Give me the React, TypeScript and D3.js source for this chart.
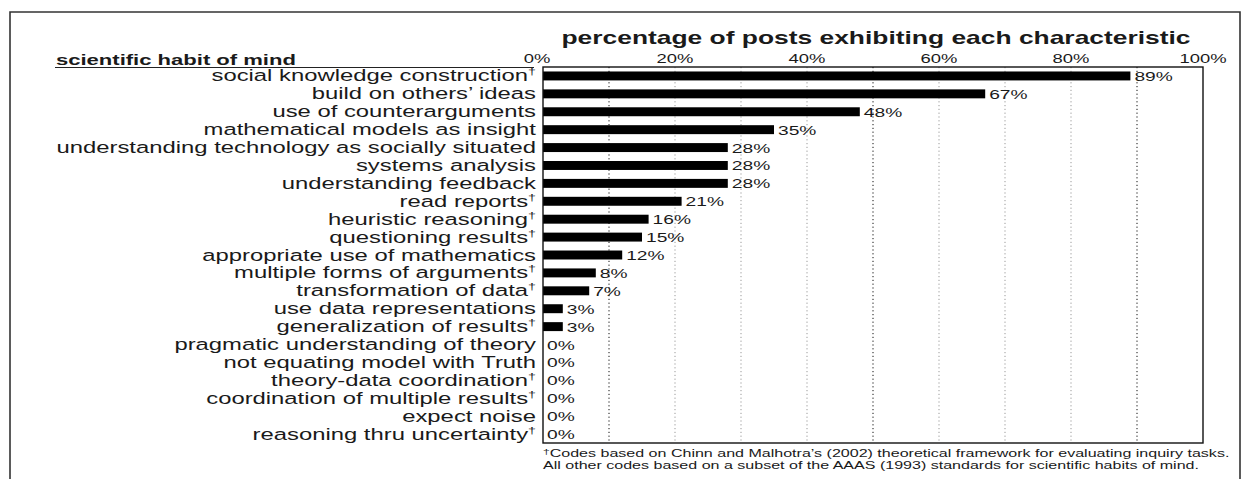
import React from 'react';
import * as d3 from 'd3';

const habits: string[] = [
  'social knowledge construction',
  'build on others\u2019 ideas',
  'use of counterarguments',
  'mathematical models as insight',
  'understanding technology as socially situated',
  'systems analysis',
  'understanding feedback',
  'read reports',
  'heuristic reasoning',
  'questioning results',
  'appropriate use of mathematics',
  'multiple forms of arguments',
  'transformation of data',
  'use data representations',
  'generalization of results',
  'pragmatic understanding of theory',
  'not equating model with Truth',
  'theory-data coordination',
  'coordination of multiple results',
  'expect noise',
  'reasoning thru uncertainty',
];

const percents: number[] = [89, 67, 48, 35, 28, 28, 28, 21, 16, 15, 12, 8, 7, 3, 3, 0, 0, 0, 0, 0, 0];

// codes from Chinn & Malhotra get a dagger
const chinnCodes: boolean[] = [
  true, false, false, false, false, false, false, true, true, true, false,
  true, true, false, true, false, false, true, true, false, true,
];

const axisTicks: number[] = [0, 20, 40, 60, 80, 100];
const gridTicks: number[] = [10, 20, 30, 40, 50, 60, 70, 80, 90];

const W = 1241;
const H = 479;
const SX = 1.5; // the source image is stretched horizontally
const FONT = '"Liberation Sans", Arial, Helvetica, sans-serif';

const plot = { left: 543, right: 1203, top: 67, bottom: 443 };

const T: React.FC<{ x: number; y: number; size: number; anchor?: string; weight?: string; children: React.ReactNode }> = ({ x, y, size, anchor = 'start', weight = 'normal', children }) => (
  <text
    transform={`translate(${x},${y}) scale(${SX},1)`}
    fontSize={size}
    fontWeight={weight}
    textAnchor={anchor}
    fill="#1a1a1a"
  >
    {children}
  </text>
);

const Dagger: React.FC = () => (
  <tspan fontSize={9.5} dy={-6}>{'\u2020'}</tspan>
);

export default function App() {
  const x = d3.scaleLinear().domain([0, 100]).range([plot.left, plot.right]);
  const y = d3.scaleBand<string>()
    .domain(habits)
    .range([plot.top, plot.bottom])
    .paddingInner(0.5)
    .paddingOuter(0.25);

  return (
    <svg
      width={W}
      height={H}
      style={{ position: 'absolute', left: 0, top: 0, background: '#fff', fontFamily: FONT }}
    >
      {/* outer frame */}
      <path d={`M10,${H} V12 H${W - 1} V${H}`} fill="none" stroke="#333" strokeWidth={1.6} />

      <T x={876} y={44} size={17.6} anchor="middle" weight="bold">
        percentage of posts exhibiting each characteristic
      </T>

      <T x={56} y={65} size={14.7} weight="bold">scientific habit of mind</T>
      <line x1={55} x2={534} y1={67.5} y2={67.5} stroke="#222" strokeWidth={1} />

      {axisTicks.map(t => (
        <T key={t} x={t === 0 ? x(t) - 6 : x(t)} y={63} size={12.3} anchor="middle">{`${t}%`}</T>
      ))}

      {/* grid */}
      {gridTicks.map(t => (
        <line
          key={t}
          x1={x(t)}
          x2={x(t)}
          y1={plot.top}
          y2={plot.bottom}
          stroke={t % 40 === 10 ? '#111' : '#999'}
          strokeWidth={1}
          strokeDasharray="1.2,2.6"
        />
      ))}

      {/* bars */}
      {habits.map((h, i) => (
        <rect
          key={h}
          x={x(0)}
          y={y(h)!}
          width={x(percents[i]) - x(0)}
          height={y.bandwidth()}
          fill="#000"
        />
      ))}

      <rect
        x={plot.left}
        y={plot.top}
        width={plot.right - plot.left}
        height={plot.bottom - plot.top}
        fill="none"
        stroke="#111"
        strokeWidth={1.4}
      />

      {/* category labels */}
      {habits.map((h, i) => (
        <T key={h} x={536} y={y(h)! + y.bandwidth() / 2 + 5.5} size={15.9} anchor="end">
          {h}
          {chinnCodes[i] && <Dagger />}
        </T>
      ))}

      {/* value labels */}
      {habits.map((h, i) => (
        <T key={h} x={x(percents[i]) + 4} y={y(h)! + y.bandwidth() / 2 + 5} size={12.8}>
          {`${percents[i]}%`}
        </T>
      ))}

      {/* footnote */}
      <T x={543} y={457} size={10.7}>
        <tspan fontSize={8} dy={-3}>{'\u2020'}</tspan>
        <tspan dy={3}>Codes based on Chinn and Malhotra{'\u2019'}s (2002) theoretical framework for evaluating inquiry tasks.</tspan>
      </T>
      <T x={543} y={469} size={10.7}>
        All other codes based on a subset of the AAAS (1993) standards for scientific habits of mind.
      </T>
    </svg>
  );
}
